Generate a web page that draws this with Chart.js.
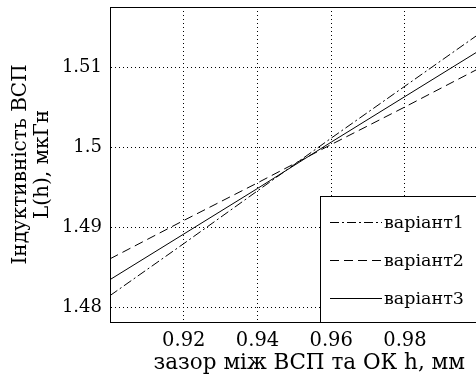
<!DOCTYPE html>
<html><head><meta charset="utf-8">
<script src="https://cdn.jsdelivr.net/npm/chart.js@4/dist/chart.umd.min.js"></script>
<style>
html,body{margin:0;padding:0;overflow:hidden;background:#fff;width:476px;height:378px}
#wrap{position:absolute;left:0;top:0;width:490px;height:378px}
</style>
</head><body><div id="wrap"><canvas id="c"></canvas></div>
<script>
const hValues   = [0.90, 0.92, 0.94, 0.96, 0.98, 1.00];
const variant1  = [1.4815, 1.4880, 1.4946, 1.5012, 1.5077, 1.5142];
const variant2  = [1.4861, 1.4909, 1.4956, 1.5004, 1.5051, 1.5099];
const variant3  = [1.4835, 1.4892, 1.4949, 1.5007, 1.5064, 1.5121];
const seriesNames = ['варіант1', 'варіант2', 'варіант3'];
const xTickValues = [0.92, 0.94, 0.96, 0.98];
const yTickValues = [1.48, 1.49, 1.5, 1.51];
const xTitle = 'зазор між ВСП та ОК h, мм  ';
const yTitle = ['Індуктивність ВСП', 'L(h), мкГн'];

const FONT = '"DejaVu Serif", "Liberation Serif", serif';
Chart.defaults.font.family = FONT;
Chart.defaults.color = '#000';

const toPts = arr => hValues.map((x, i) => ({x, y: arr[i]}));
const dashes = [[9, 3, 2, 3], [9, 5], []];
const seriesData = [variant1, variant2, variant3];

const framePlugin = {
  id: 'frame',
  afterDraw(chart) {
    const a = chart.chartArea, ctx = chart.ctx;
    ctx.save();
    ctx.strokeStyle = '#000'; ctx.lineWidth = 1;
    ctx.beginPath();
    ctx.moveTo(Math.round(a.left) + 0.5, Math.round(a.top) + 0.5);
    ctx.lineTo(Math.round(a.right) + 0.5, Math.round(a.top) + 0.5);
    ctx.lineTo(Math.round(a.right) + 0.5, Math.round(a.bottom) + 0.5);
    ctx.stroke();
    ctx.restore();
  }
};

const legendPlugin = {
  id: 'boxLegend',
  afterDatasetsDraw(chart) {
    const ctx = chart.ctx, a = chart.chartArea;
    const bx = 320.5, by = 196.5;
    ctx.save();
    ctx.fillStyle = '#fff';
    ctx.fillRect(bx, by, a.right - bx + 30, Math.round(a.bottom) + 0.5 - by);
    ctx.strokeStyle = '#000'; ctx.lineWidth = 1;
    ctx.strokeRect(bx, by, a.right - bx + 30, Math.round(a.bottom) + 0.5 - by);
    const rows = [222.5, 260.5, 298.5];
    chart.data.datasets.forEach((ds, i) => {
      ctx.setLineDash(ds.borderDash || []);
      ctx.beginPath(); ctx.moveTo(330, rows[i]); ctx.lineTo(382, rows[i]); ctx.stroke();
      ctx.setLineDash([]);
      ctx.fillStyle = '#000';
      ctx.font = '17.5px ' + FONT;
      ctx.textBaseline = 'middle';
      ctx.fillText(ds.label, 384, rows[i] + 1);
    });
    ctx.restore();
  }
};

new Chart(document.getElementById('c'), {
  type: 'line',
  data: {
    datasets: seriesData.map((arr, i) => ({
      label: seriesNames[i],
      data: toPts(arr),
      borderColor: '#000',
      borderWidth: 1,
      borderDash: dashes[i],
      pointRadius: 0,
      fill: false,
      tension: 0
    }))
  },
  options: {
    responsive: true,
    maintainAspectRatio: false,
    animation: false,
    events: [],
    layout: { padding: { left: 0, top: 7, right: 11.3, bottom: 0 } },
    plugins: { legend: { display: false }, tooltip: { enabled: false } },
    scales: {
      x: {
        type: 'linear', min: 0.9, max: 1.0,
        afterBuildTicks: s => { s.ticks = xTickValues.map(v => ({value: v})); },
        afterFit: s => { s.height = 56; s.paddingLeft = 0; s.paddingRight = 0; },
        ticks: { font: { size: 19.5 }, padding: 7, maxRotation: 0, autoSkip: false,
                 callback: v => String(v) },
        grid: { color: '#000', lineWidth: 1, drawTicks: false },
        border: { display: true, color: '#000', width: 1, dash: [1, 3] },
        title: { display: true, text: xTitle, align: 'end', font: { size: 21.5, lineHeight: 1.2 },
                 padding: { top: 0, bottom: 2 } }
      },
      y: {
        type: 'linear', min: 1.4782, max: 1.5176,
        afterBuildTicks: s => { s.ticks = yTickValues.map(v => ({value: v})); },
        afterFit: s => { s.width = 110; s.paddingTop = 0; s.paddingBottom = 0; },
        ticks: { font: { size: 18 }, padding: 8, autoSkip: false, callback: v => String(v) },
        grid: { color: '#000', lineWidth: 1, drawTicks: false },
        border: { display: true, color: '#000', width: 1, dash: [1, 3] },
        title: { display: true, text: yTitle, font: { size: 20, lineHeight: 1.1 }, padding: { top: 10, bottom: 0 } }
      }
    }
  },
  plugins: [legendPlugin, framePlugin]
});
</script>
</body></html>
